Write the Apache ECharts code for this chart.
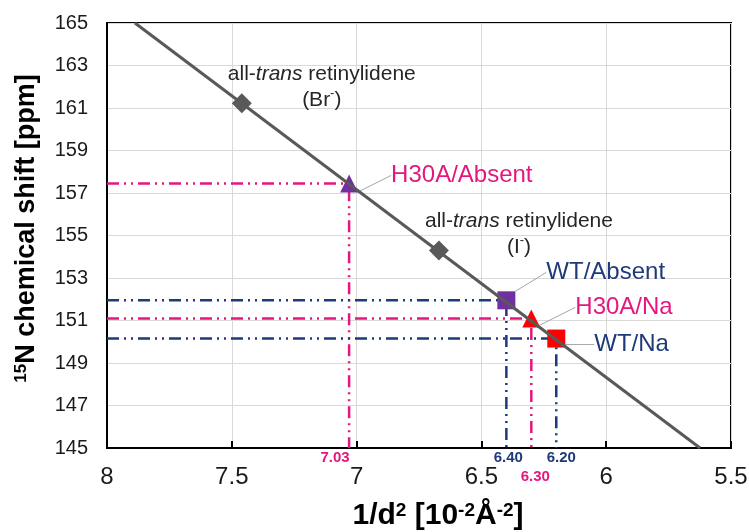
<!DOCTYPE html>
<html>
<head>
<meta charset="utf-8">
<script src="https://cdn.jsdelivr.net/npm/echarts@6/dist/echarts.min.js"></script>
<style>
  html, body { margin: 0; padding: 0; background: #fff; }
  #chart { width: 749px; height: 532px; }
</style>
</head>
<body>
<div id="chart"></div>
<script>
// Regression line through the reference compounds (end points)
const fitLine = [[7.888, 165], [5.624, 145]];

// all-trans retinylidene reference compounds [1/d^2, 15N shift]
const refBr = [7.46, 161.22];
const refI = [6.67, 154.3];

// Samples [1/d^2, 15N shift]
const h30aAbsent = [7.03, 157.45];
const h30aNa = [6.30, 151.1];
const wtAbsent = [6.40, 151.95];
const wtNa = [6.20, 150.15];

// Axis ranges and tick steps
const xRange = [5.5, 8];
const xStep = 0.5;
const yRange = [145, 165];
const yStep = 2;

const FONT = "'Liberation Sans', Arial, sans-serif";
const PINK = '#E5177E';
const NAVY = '#1F3A7A';
const PURPLE = '#7030A0';
const RED = '#FF0000';
const GREY = '#595959';

// Dash-dot-dot guide from the y axis to the point, then down to the x axis,
// with the x value written under the axis.
function dropLine(pt, color, labelOffset) {
  return {
    type: 'line',
    silent: true,
    z: 2,
    symbol: 'circle',
    symbolSize: 0,
    showSymbol: true,
    lineStyle: { color: color, width: 2.5, type: [12, 5, 2, 5, 2, 5] },
    label: { show: false },
    data: [
      [xRange[1], pt[1]],
      pt,
      {
        value: [pt[0], yRange[0]],
        label: {
          show: true,
          position: 'bottom',
          distance: 2,
          offset: labelOffset,
          formatter: pt[0].toFixed(2),
          color: color,
          fontFamily: FONT,
          fontWeight: 'bold',
          fontSize: 15
        }
      }
    ]
  };
}

// Reference compound label: "all-trans retinylidene (X-)"
function refLabel(ion) {
  return {
    show: true,
    position: 'inside',
    offset: [80, -16],
    align: 'center',
    formatter: 'all-{i|trans} retinylidene\n(' + ion + '{s|-})',
    color: '#262626',
    fontFamily: FONT,
    fontSize: 21,
    lineHeight: 26,
    rich: {
      i: { fontStyle: 'italic', fontSize: 21, fontFamily: FONT, color: '#262626' },
      s: { fontSize: 13, fontFamily: FONT, color: '#262626', verticalAlign: 'top', lineHeight: 13 }
    }
  };
}

// Sample marker with a grey leader line to its name
function sample(pt, name, symbol, fill, textColor, dx, dy) {
  return {
    type: 'scatter',
    z: 4,
    symbol: symbol,
    symbolSize: 18,
    itemStyle: { color: fill, opacity: 1 },
    label: {
      show: true,
      position: 'right',
      formatter: name,
      color: textColor,
      fontFamily: FONT,
      fontSize: 24
    },
    labelLayout: { dx: dx, dy: dy },
    labelLine: { show: true, lineStyle: { color: '#A6A6A6', width: 1 } },
    data: [pt]
  };
}

const chart = echarts.init(document.getElementById('chart'), null, { renderer: 'canvas' });

chart.setOption({
  animation: false,
  backgroundColor: '#fff',
  grid: {
    left: 107, top: 23, right: 18, bottom: 84,
    outerBoundsMode: 'none',
    containLabel: false,
    show: true, borderColor: '#000', borderWidth: 2
  },
  xAxis: {
    type: 'value',
    inverse: true,
    min: xRange[0],
    max: xRange[1],
    interval: xStep,
    name: '1/d{s|2} [10{s|-2}Å{s|-2}]',
    nameLocation: 'middle',
    nameGap: 53,
    nameTextStyle: {
      fontFamily: FONT, fontSize: 30, fontWeight: 'bold', color: '#000',
      padding: [0, 0, 0, 38],
      rich: {
        s: { fontFamily: FONT, fontSize: 19, fontWeight: 'bold', color: '#000', verticalAlign: 'top', lineHeight: 19 }
      }
    },
    axisLine: { show: true, lineStyle: { color: '#000', width: 2 } },
    axisTick: { show: true, inside: true, length: 7, lineStyle: { color: '#000', width: 2 } },
    axisLabel: { color: '#1a1a1a', fontFamily: FONT, fontSize: 24, margin: 17 },
    splitLine: { show: true, lineStyle: { color: '#D9D9D9', width: 1 } }
  },
  yAxis: {
    type: 'value',
    min: yRange[0],
    max: yRange[1],
    interval: yStep,
    name: '{s|15}N chemical shift [ppm]',
    nameLocation: 'middle',
    nameGap: 67,
    nameTextStyle: {
      fontFamily: FONT, fontSize: 27, fontWeight: 'bold', color: '#000',
      padding: [0, 0, 0, 14],
      rich: {
        s: { fontFamily: FONT, fontSize: 17, fontWeight: 'bold', color: '#000', verticalAlign: 'top', lineHeight: 17 }
      }
    },
    axisLine: { show: true, lineStyle: { color: '#000', width: 2 } },
    axisTick: { show: false },
    axisLabel: { color: '#1a1a1a', fontFamily: FONT, fontSize: 20, margin: 19 },
    splitLine: { show: true, lineStyle: { color: '#D9D9D9', width: 1 } }
  },
  series: [
    dropLine(h30aAbsent, PINK, [-14, 0]),
    dropLine(wtAbsent, NAVY, [2, 0]),
    dropLine(h30aNa, PINK, [4, 19]),
    dropLine(wtNa, NAVY, [5, 0]),
    sample(h30aAbsent, 'H30A/Absent', 'triangle', PURPLE, PINK, 28, -8),
    sample(wtAbsent, 'WT/Absent', 'rect', PURPLE, NAVY, 26, -28),
    sample(h30aNa, 'H30A/Na', 'triangle', RED, PINK, 30, -11),
    sample(wtNa, 'WT/Na', 'rect', RED, NAVY, 24, 6),
    {
      type: 'line',
      z: 5,
      silent: true,
      symbol: 'none',
      lineStyle: { color: GREY, width: 3 },
      data: fitLine
    },
    {
      type: 'scatter',
      z: 6,
      symbol: 'diamond',
      symbolSize: 20,
      itemStyle: { color: GREY, opacity: 1 },
      data: [
        { value: refBr, label: refLabel('Br') },
        { value: refI, label: refLabel('I') }
      ]
    }
  ]
});
</script>
</body>
</html>
